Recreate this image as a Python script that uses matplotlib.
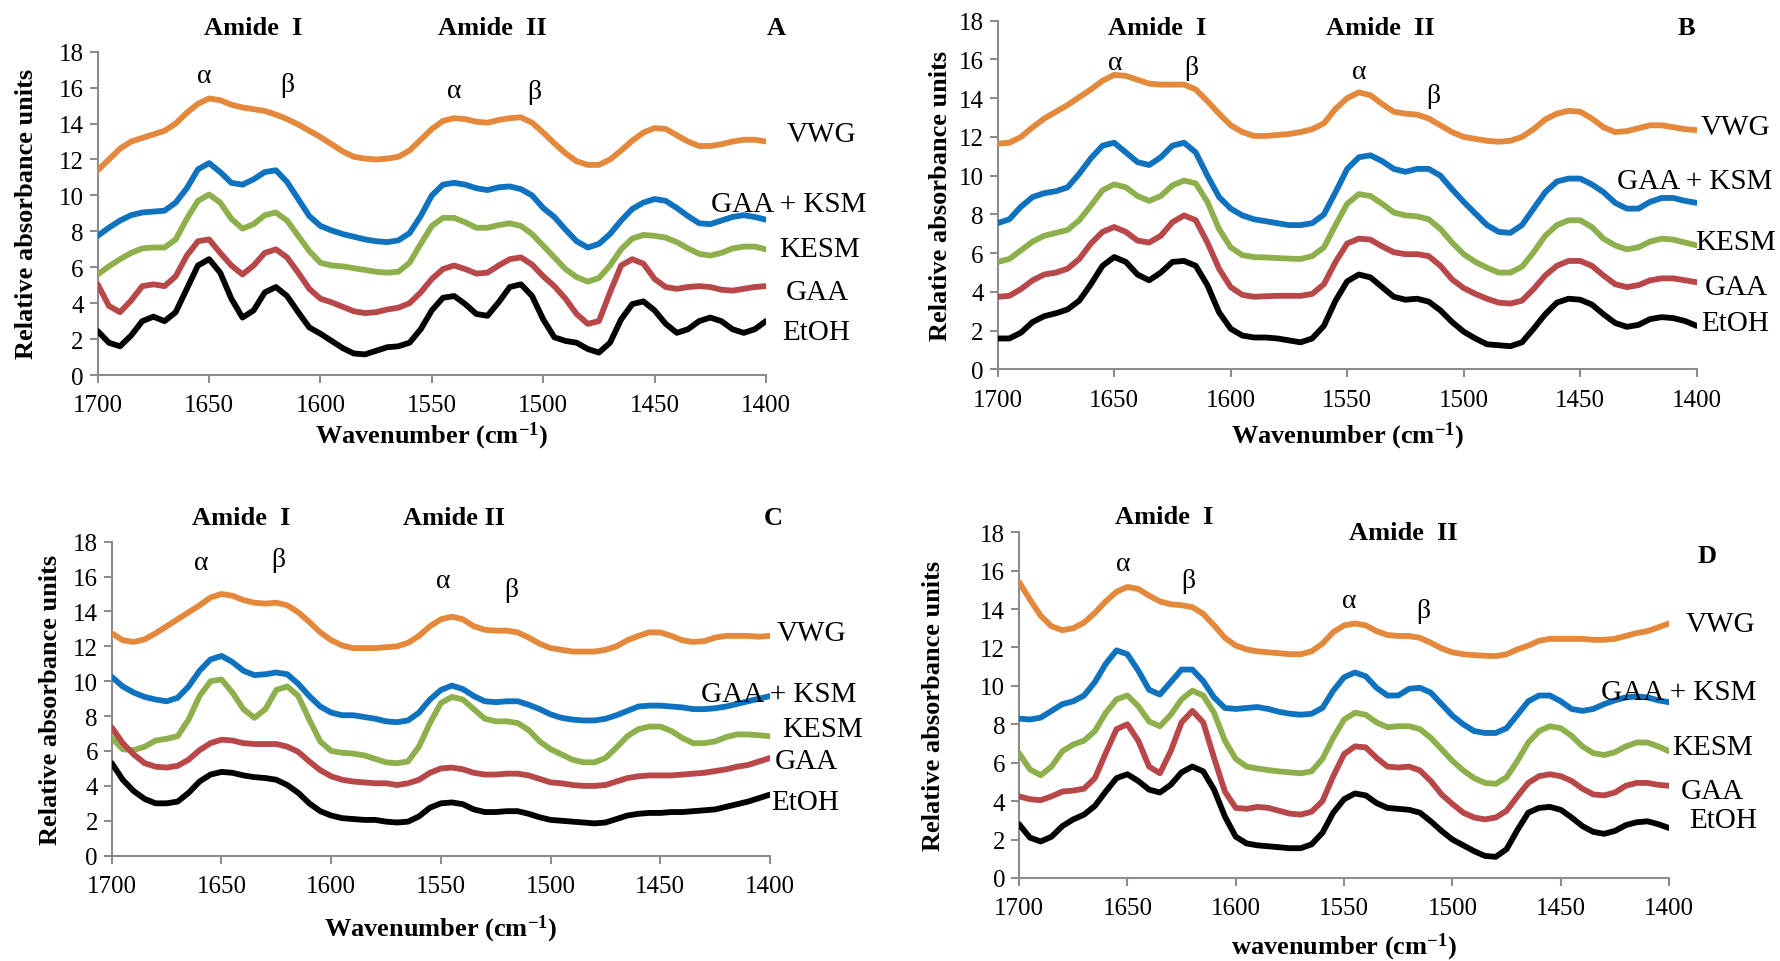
import matplotlib
matplotlib.use("Agg")
import matplotlib.pyplot as plt

plt.rcParams['font.family'] = ['Liberation Serif', 'DejaVu Serif']
plt.rcParams['mathtext.default'] = 'regular'

# ---------------- data ----------------
WN = list(range(1700, 1399, -5))   # wavenumber grid, cm-1 (1700 ... 1400)
SERIES = ["VWG", "GAA + KSM", "KESM", "GAA", "EtOH"]
COLORS = ["#E4883B", "#0F72BF", "#8DB04C", "#B8474A", "#000000"]

# Panel A
A_VWG = [11.4, 12.0, 12.6, 13.0, 13.2, 13.4, 13.6, 14.0, 14.6, 15.1, 15.4, 15.3, 15.05, 14.9, 14.8, 14.7,
         14.5, 14.25, 13.95, 13.6, 13.25, 12.85, 12.45, 12.15, 12.05, 12.0, 12.05, 12.15, 12.5, 13.1, 13.7,
         14.15, 14.3, 14.25, 14.1, 14.05, 14.2, 14.3, 14.35, 14.05, 13.5, 12.9, 12.35, 11.9, 11.7, 11.7,
         12.0, 12.5, 13.05, 13.5, 13.75, 13.7, 13.35, 13.0, 12.75, 12.75, 12.85, 13.0, 13.1, 13.1, 13.0]
A_GKSM = [7.75, 8.2, 8.6, 8.9, 9.05, 9.1, 9.15, 9.6, 10.4, 11.45, 11.8, 11.3, 10.7, 10.6, 10.9, 11.3, 11.4,
          10.75, 9.8, 8.85, 8.3, 8.05, 7.85, 7.7, 7.55, 7.45, 7.4, 7.5, 7.9, 8.85, 10.0, 10.6, 10.7, 10.6,
          10.4, 10.3, 10.45, 10.5, 10.35, 10.0, 9.3, 8.8, 8.1, 7.45, 7.1, 7.3, 7.85, 8.6, 9.25, 9.6, 9.8, 9.7,
          9.3, 8.85, 8.45, 8.4, 8.6, 8.8, 8.9, 8.8, 8.65]
A_KESM = [5.6, 6.05, 6.45, 6.8, 7.05, 7.1, 7.1, 7.55, 8.7, 9.7, 10.05, 9.6, 8.7, 8.15, 8.4, 8.9, 9.05, 8.6,
          7.75, 6.9, 6.25, 6.1, 6.05, 5.95, 5.85, 5.75, 5.7, 5.75, 6.25, 7.3, 8.3, 8.75, 8.75, 8.5, 8.2, 8.2,
          8.35, 8.45, 8.3, 7.85, 7.2, 6.55, 5.9, 5.45, 5.2, 5.4, 6.1, 7.0, 7.6, 7.8, 7.75, 7.65, 7.4, 7.05,
          6.75, 6.65, 6.8, 7.05, 7.15, 7.15, 7.0]
A_GAA = [5.05, 3.85, 3.5, 4.15, 4.95, 5.05, 4.95, 5.5, 6.65, 7.45, 7.55, 6.8, 6.1, 5.6, 6.1, 6.8, 7.0, 6.55,
         5.7, 4.8, 4.25, 4.05, 3.8, 3.55, 3.45, 3.5, 3.65, 3.75, 4.0, 4.6, 5.35, 5.9, 6.1, 5.9, 5.65, 5.7,
         6.1, 6.45, 6.55, 6.15, 5.5, 4.95, 4.25, 3.4, 2.85, 3.0, 4.6, 6.1, 6.45, 6.2, 5.35, 4.9, 4.8, 4.9,
         4.95, 4.9, 4.75, 4.7, 4.8, 4.9, 4.95]
A_ETOH = [2.45, 1.8, 1.6, 2.2, 3.0, 3.25, 3.0, 3.5, 4.8, 6.1, 6.45, 5.7, 4.25, 3.2, 3.6, 4.6, 4.9, 4.4, 3.5,
          2.65, 2.3, 1.9, 1.5, 1.2, 1.15, 1.35, 1.55, 1.6, 1.8, 2.55, 3.6, 4.3, 4.4, 3.95, 3.4, 3.3, 4.05,
          4.9, 5.05, 4.4, 3.1, 2.1, 1.9, 1.8, 1.45, 1.25, 1.8, 3.1, 3.95, 4.1, 3.6, 2.85, 2.35, 2.55, 3.0,
          3.2, 3.0, 2.55, 2.35, 2.55, 3.0]

# Panel B
B_VWG = [11.65, 11.7, 12.0, 12.5, 12.95, 13.3, 13.65, 14.05, 14.45, 14.9, 15.2, 15.15, 14.95, 14.75, 14.7,
         14.7, 14.7, 14.45, 13.85, 13.2, 12.6, 12.25, 12.05, 12.05, 12.1, 12.15, 12.25, 12.4, 12.7, 13.45,
         14.0, 14.3, 14.15, 13.7, 13.3, 13.2, 13.15, 12.95, 12.6, 12.25, 12.0, 11.9, 11.8, 11.75, 11.8, 12.0,
         12.4, 12.9, 13.2, 13.35, 13.3, 12.95, 12.5, 12.25, 12.3, 12.45, 12.6, 12.6, 12.5, 12.4, 12.35]
B_GKSM = [7.55, 7.75, 8.4, 8.9, 9.1, 9.2, 9.4, 10.1, 10.9, 11.55, 11.7, 11.2, 10.7, 10.55, 10.95, 11.55,
          11.7, 11.2, 10.0, 8.9, 8.3, 7.95, 7.75, 7.65, 7.55, 7.45, 7.45, 7.55, 8.0, 9.15, 10.35, 10.95,
          11.05, 10.75, 10.35, 10.2, 10.35, 10.35, 10.0, 9.3, 8.65, 8.05, 7.45, 7.1, 7.05, 7.45, 8.3, 9.15,
          9.7, 9.85, 9.85, 9.55, 9.15, 8.6, 8.3, 8.3, 8.65, 8.85, 8.85, 8.7, 8.6]
B_KESM = [5.55, 5.7, 6.15, 6.6, 6.9, 7.05, 7.2, 7.7, 8.45, 9.25, 9.55, 9.4, 8.95, 8.7, 8.95, 9.5, 9.75, 9.6,
          8.65, 7.25, 6.3, 5.9, 5.8, 5.78, 5.75, 5.72, 5.7, 5.85, 6.3, 7.45, 8.55, 9.05, 8.95, 8.55, 8.1,
          7.95, 7.9, 7.75, 7.25, 6.55, 5.95, 5.55, 5.25, 5.0, 5.0, 5.3, 6.05, 6.9, 7.45, 7.7, 7.7, 7.35, 6.75,
          6.4, 6.2, 6.3, 6.6, 6.75, 6.7, 6.55, 6.4]
B_GAA = [3.75, 3.8, 4.15, 4.6, 4.9, 5.0, 5.2, 5.7, 6.5, 7.1, 7.35, 7.1, 6.65, 6.55, 6.9, 7.6, 7.95, 7.7, 6.55,
         5.2, 4.25, 3.85, 3.75, 3.78, 3.8, 3.8, 3.8, 3.9, 4.4, 5.55, 6.5, 6.75, 6.7, 6.35, 6.05, 5.95, 5.95,
         5.85, 5.35, 4.65, 4.2, 3.9, 3.65, 3.45, 3.4, 3.55, 4.15, 4.85, 5.35, 5.6, 5.6, 5.35, 4.85, 4.4,
         4.25, 4.35, 4.6, 4.7, 4.7, 4.6, 4.5]
B_ETOH = [1.6, 1.6, 1.9, 2.45, 2.75, 2.9, 3.1, 3.55, 4.4, 5.35, 5.8, 5.55, 4.9, 4.6, 5.0, 5.55, 5.6, 5.35,
          4.35, 2.95, 2.1, 1.75, 1.65, 1.65, 1.6, 1.5, 1.4, 1.6, 2.25, 3.55, 4.55, 4.9, 4.75, 4.25, 3.75,
          3.6, 3.65, 3.5, 3.05, 2.45, 1.95, 1.6, 1.3, 1.25, 1.2, 1.4, 2.1, 2.85, 3.45, 3.65, 3.6, 3.35, 2.85,
          2.4, 2.2, 2.3, 2.6, 2.7, 2.65, 2.5, 2.25]

# Panel C
C_VWG = [12.75, 12.35, 12.25, 12.4, 12.75, 13.15, 13.55, 13.95, 14.35, 14.8, 15.0, 14.9, 14.65, 14.5, 14.45,
         14.5, 14.35, 13.95, 13.4, 12.8, 12.35, 12.05, 11.9, 11.9, 11.9, 11.95, 12.0, 12.2, 12.6, 13.15,
         13.55, 13.7, 13.55, 13.15, 12.95, 12.9, 12.9, 12.8, 12.5, 12.15, 11.9, 11.8, 11.7, 11.7, 11.7, 11.8,
         12.0, 12.35, 12.6, 12.8, 12.8, 12.6, 12.35, 12.25, 12.3, 12.5, 12.6, 12.6, 12.6, 12.55, 12.6]
C_GKSM = [10.25, 9.7, 9.35, 9.1, 8.95, 8.85, 9.05, 9.7, 10.6, 11.25, 11.45, 11.1, 10.6, 10.35, 10.4, 10.5,
          10.4, 9.85, 9.15, 8.55, 8.2, 8.05, 8.05, 7.95, 7.85, 7.7, 7.65, 7.75, 8.2, 8.95, 9.5, 9.75, 9.55,
          9.15, 8.85, 8.8, 8.85, 8.85, 8.65, 8.4, 8.1, 7.9, 7.8, 7.75, 7.75, 7.85, 8.05, 8.3, 8.55, 8.6, 8.6,
          8.55, 8.5, 8.4, 8.4, 8.45, 8.55, 8.7, 8.85, 9.0, 9.15]
C_KESM = [6.75, 6.1, 6.05, 6.25, 6.6, 6.7, 6.85, 7.8, 9.15, 10.0, 10.1, 9.35, 8.4, 7.9, 8.4, 9.5, 9.7, 9.15,
          7.8, 6.55, 6.0, 5.9, 5.85, 5.75, 5.55, 5.35, 5.3, 5.4, 6.25, 7.6, 8.75, 9.1, 8.95, 8.4, 7.85, 7.7,
          7.7, 7.6, 7.2, 6.55, 6.1, 5.8, 5.5, 5.35, 5.35, 5.6, 6.2, 6.85, 7.25, 7.4, 7.4, 7.15, 6.75, 6.45,
          6.45, 6.55, 6.8, 6.95, 6.95, 6.9, 6.85]
C_GAA = [7.35, 6.45, 5.8, 5.3, 5.1, 5.05, 5.15, 5.5, 6.05, 6.45, 6.65, 6.6, 6.45, 6.4, 6.4, 6.4, 6.25, 5.95,
         5.4, 4.9, 4.55, 4.35, 4.25, 4.2, 4.15, 4.15, 4.05, 4.15, 4.35, 4.75, 5.0, 5.05, 4.95, 4.75, 4.65,
         4.65, 4.7, 4.7, 4.6, 4.4, 4.2, 4.15, 4.05, 4.0, 4.0, 4.05, 4.25, 4.45, 4.55, 4.6, 4.6, 4.6, 4.65,
         4.7, 4.75, 4.85, 4.95, 5.1, 5.2, 5.4, 5.6]
C_ETOH = [5.3, 4.35, 3.7, 3.25, 3.0, 3.0, 3.1, 3.6, 4.25, 4.65, 4.8, 4.75, 4.6, 4.5, 4.45, 4.35, 4.05, 3.6,
          3.0, 2.55, 2.3, 2.15, 2.1, 2.05, 2.05, 1.95, 1.9, 1.95, 2.25, 2.75, 3.0, 3.05, 2.95, 2.65, 2.5,
          2.5, 2.55, 2.55, 2.4, 2.2, 2.05, 2.0, 1.95, 1.9, 1.85, 1.9, 2.1, 2.3, 2.4, 2.45, 2.45, 2.5, 2.5,
          2.55, 2.6, 2.65, 2.8, 2.95, 3.1, 3.3, 3.5]

# Panel D
D_VWG = [15.4, 14.5, 13.65, 13.1, 12.9, 13.0, 13.3, 13.8, 14.4, 14.9, 15.15, 15.05, 14.7, 14.4, 14.25, 14.2,
         14.1, 13.75, 13.15, 12.5, 12.1, 11.9, 11.8, 11.75, 11.7, 11.65, 11.65, 11.8, 12.2, 12.8, 13.15,
         13.25, 13.15, 12.85, 12.65, 12.6, 12.6, 12.5, 12.25, 11.95, 11.75, 11.65, 11.6, 11.57, 11.55,
         11.65, 11.9, 12.1, 12.35, 12.45, 12.45, 12.45, 12.45, 12.4, 12.4, 12.45, 12.6, 12.75, 12.85,
         13.05, 13.25]
D_GKSM = [8.3, 8.25, 8.35, 8.7, 9.05, 9.2, 9.5, 10.2, 11.15, 11.85, 11.65, 10.8, 9.8, 9.55, 10.2, 10.85,
          10.85, 10.25, 9.4, 8.85, 8.8, 8.85, 8.9, 8.8, 8.65, 8.55, 8.5, 8.55, 8.85, 9.75, 10.45, 10.7, 10.5,
          9.9, 9.5, 9.5, 9.85, 9.9, 9.65, 9.05, 8.45, 8.0, 7.65, 7.55, 7.55, 7.8, 8.5, 9.2, 9.5, 9.5, 9.2,
          8.8, 8.7, 8.8, 9.05, 9.25, 9.4, 9.45, 9.4, 9.25, 9.15]
D_KESM = [6.5, 5.65, 5.35, 5.8, 6.6, 6.95, 7.15, 7.65, 8.6, 9.3, 9.5, 8.95, 8.15, 7.9, 8.5, 9.3, 9.75, 9.5,
          8.6, 7.15, 6.2, 5.8, 5.7, 5.62, 5.55, 5.5, 5.45, 5.55, 6.2, 7.3, 8.25, 8.6, 8.5, 8.1, 7.85, 7.9,
          7.9, 7.75, 7.3, 6.7, 6.1, 5.6, 5.2, 4.95, 4.9, 5.25, 6.1, 7.05, 7.65, 7.9, 7.8, 7.4, 6.85, 6.5,
          6.4, 6.55, 6.85, 7.05, 7.05, 6.85, 6.6]
D_GAA = [4.25, 4.1, 4.05, 4.25, 4.5, 4.55, 4.65, 5.2, 6.5, 7.75, 8.0, 7.15, 5.8, 5.45, 6.6, 8.1, 8.7, 8.1,
         6.25, 4.5, 3.65, 3.6, 3.7, 3.65, 3.5, 3.35, 3.3, 3.45, 4.0, 5.3, 6.45, 6.85, 6.8, 6.25, 5.8, 5.75,
         5.8, 5.6, 5.05, 4.35, 3.85, 3.4, 3.15, 3.05, 3.15, 3.5, 4.25, 4.95, 5.3, 5.4, 5.3, 5.05, 4.65, 4.35,
         4.3, 4.45, 4.8, 4.95, 4.95, 4.85, 4.8]
D_ETOH = [2.8, 2.1, 1.9, 2.15, 2.7, 3.05, 3.3, 3.75, 4.5, 5.2, 5.4, 5.05, 4.6, 4.45, 4.85, 5.5, 5.8, 5.55,
          4.6, 3.2, 2.15, 1.8, 1.7, 1.65, 1.6, 1.55, 1.55, 1.75, 2.35, 3.4, 4.1, 4.4, 4.3, 3.9, 3.65, 3.6,
          3.55, 3.4, 2.95, 2.45, 2.0, 1.7, 1.4, 1.15, 1.1, 1.5, 2.5, 3.4, 3.65, 3.7, 3.55, 3.15, 2.7, 2.4,
          2.3, 2.45, 2.75, 2.9, 2.95, 2.8, 2.6]

X_TICKS = [1700, 1650, 1600, 1550, 1500, 1450, 1400]
Y_TICKS = [0, 2, 4, 6, 8, 10, 12, 14, 16, 18]

# ---------------- layout / annotations ----------------
panels = [
    dict(letter="A", rect=[0.0549, 0.6091, 0.3754, 0.3361], data=[A_VWG, A_GKSM, A_KESM, A_GAA, A_ETOH],
         xlabel="Wavenumber (cm$^{-1}$)", xpad=2, ypad=15,
         amide=[(1630, 19.35, "Amide  I"), (1523, 19.35, "Amide  II"), (1395.5, 19.35, "A")],
         greek=[(1652, 16.7, "α"), (1615, 16.15, "β"), (1540, 15.85, "α"), (1504, 15.8, "β")],
         names=[(1375, 13.4), (1390, 9.55), (1376, 7.0), (1377, 4.6), (1377.5, 2.4)]),
    dict(letter="B", rect=[0.5605, 0.6149, 0.3927, 0.3626], data=[B_VWG, B_GKSM, B_KESM, B_GAA, B_ETOH],
         xlabel="Wavenumber (cm$^{-1}$)", xpad=6, ypad=5,
         amide=[(1631.5, 17.65, "Amide  I"), (1536, 17.65, "Amide  II"), (1404.5, 17.65, "B")],
         greek=[(1649.5, 15.85, "α"), (1617, 15.6, "β"), (1545, 15.4, "α"), (1513, 14.15, "β")],
         names=[(1383.5, 12.5), (1401, 9.7), (1383.5, 6.6), (1383, 4.25), (1383.5, 2.4)]),
    dict(letter="C", rect=[0.0628, 0.1095, 0.3698, 0.3264], data=[C_VWG, C_GKSM, C_KESM, C_GAA, C_ETOH],
         xlabel="Wavenumber (cm$^{-1}$)", xpad=11, ypad=8,
         amide=[(1641, 19.4, "Amide  I"), (1544, 19.4, "Amide II"), (1398.5, 19.4, "C")],
         greek=[(1659, 16.8, "α"), (1624, 17.0, "β"), (1549, 15.75, "α"), (1518, 15.25, "β")],
         names=[(1381, 12.75), (1396, 9.25), (1376, 7.25), (1383.5, 5.45), (1384, 3.1)]),
    dict(letter="D", rect=[0.5725, 0.0863, 0.3652, 0.3594], data=[D_VWG, D_GKSM, D_KESM, D_GAA, D_ETOH],
         xlabel="wavenumber (cm$^{-1}$)", xpad=8, ypad=25,
         amide=[(1633, 18.8, "Amide  I"), (1522.5, 18.0, "Amide  II"), (1382.5, 16.8, "D")],
         greek=[(1652, 16.35, "α"), (1622, 15.5, "β"), (1547.5, 14.45, "α"), (1513.5, 13.9, "β")],
         names=[(1376.5, 13.2), (1395.5, 9.7), (1380, 6.8), (1380, 4.55), (1375, 3.0)]),
]

fig = plt.figure(figsize=(17.8, 9.62), dpi=100)
AX_GRAY = "#8C8C8C"

for p in panels:
    ax = fig.add_axes(p["rect"])
    for vals, col in zip(p["data"], COLORS):
        ax.plot(WN, vals, color=col, lw=4.2, solid_capstyle="round", solid_joinstyle="round", zorder=3)
    ax.set_xlim(1700, 1400)
    ax.set_ylim(0, 18)
    ax.set_xticks(X_TICKS)
    ax.set_yticks(Y_TICKS)
    ax.set_xticklabels([str(t) for t in X_TICKS])
    ax.set_yticklabels([str(t) for t in Y_TICKS])
    for s in ("top", "right"):
        ax.spines[s].set_visible(False)
    for s in ("left", "bottom"):
        ax.spines[s].set_color(AX_GRAY)
        ax.spines[s].set_linewidth(1.5)
    ax.tick_params(axis="both", direction="out", length=6, width=1.5, color=AX_GRAY,
                   labelsize=18, labelcolor="black")
    ax.tick_params(axis="x", pad=8)
    ax.tick_params(axis="y", pad=4)
    ax.set_xlabel(p["xlabel"], fontsize=19, fontweight="bold", labelpad=p["xpad"])
    ax.set_ylabel("Relative absorbance units", fontsize=19, fontweight="bold", labelpad=p["ypad"])
    for (x, y, t) in p["amide"]:
        ax.text(x, y, t, fontsize=19, fontweight="bold", ha="center", va="center", clip_on=False)
    for (x, y, t) in p["greek"]:
        ax.text(x, y, t, fontsize=20, ha="center", va="center", clip_on=False)
    for (x, y), name in zip(p["names"], SERIES):
        ax.text(x, y, name, fontsize=21, ha="center", va="center", clip_on=False)

fig.savefig("out.png", dpi=100)
